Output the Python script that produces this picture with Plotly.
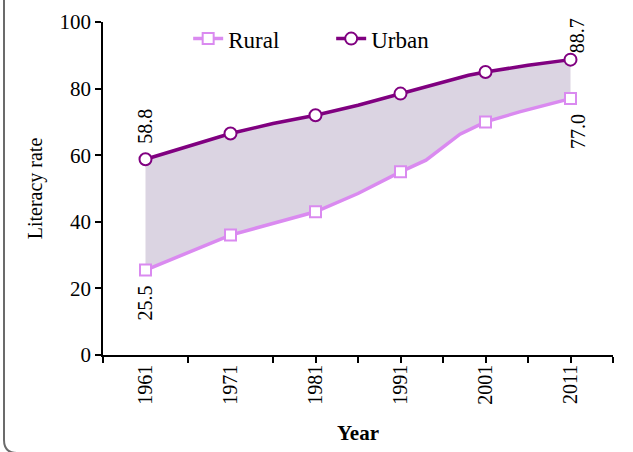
import plotly.graph_objects as go

# census years (markers) and values
census_years = [1961, 1971, 1981, 1991, 2001, 2011]
rural_census = [25.5, 36.0, 43.0, 55.0, 70.0, 77.0]
urban_census = [58.8, 66.5, 72.0, 78.5, 85.0, 88.7]

# line paths (include the in-between points seen on the curves)
rural_years = [1961, 1971, 1981, 1986, 1991, 1994, 1998, 2001, 2005, 2011]
rural_line = [25.5, 36.0, 43.0, 48.5, 55.0, 58.5, 66.3, 70.0, 73.0, 77.0]
urban_years = [1961, 1971, 1976, 1981, 1986, 1991, 1999, 2001, 2006, 2011]
urban_line = [58.8, 66.5, 69.5, 72.0, 75.0, 78.5, 84.0, 85.0, 87.0, 88.7]

RURAL = '#DA8AF0'
URBAN = '#800080'
FILL = '#DBD4E2'
FONT = 'Liberation Serif, Times New Roman, serif'

fig = go.Figure()

# shaded band between the two series
fig.add_trace(go.Scatter(x=rural_years, y=rural_line, mode='lines',
                         line=dict(width=0), showlegend=False, hoverinfo='skip'))
fig.add_trace(go.Scatter(x=urban_years, y=urban_line, mode='lines',
                         line=dict(width=0), fill='tonexty', fillcolor=FILL,
                         showlegend=False, hoverinfo='skip'))

# lines
fig.add_trace(go.Scatter(x=rural_years, y=rural_line, mode='lines',
                         line=dict(color=RURAL, width=3.5), showlegend=False))
fig.add_trace(go.Scatter(x=urban_years, y=urban_line, mode='lines',
                         line=dict(color=URBAN, width=3.5), showlegend=False))

# markers at census years
fig.add_trace(go.Scatter(x=census_years, y=rural_census, mode='markers', name='Rural',
                         marker=dict(symbol='square', size=11, color='white',
                                     line=dict(color=RURAL, width=2)),
                         showlegend=False))
fig.add_trace(go.Scatter(x=census_years, y=urban_census, mode='markers', name='Urban',
                         marker=dict(symbol='circle', size=12, color='white',
                                     line=dict(color=URBAN, width=2)),
                         showlegend=False))

# legend entries
fig.add_trace(go.Scatter(x=[None], y=[None], mode='lines+markers', name='Rural',
                         line=dict(color=RURAL, width=3.5),
                         marker=dict(symbol='square', size=11, color='white',
                                     line=dict(color=RURAL, width=2))))
fig.add_trace(go.Scatter(x=[None], y=[None], mode='lines+markers', name='Urban',
                         line=dict(color=URBAN, width=3.5),
                         marker=dict(symbol='circle', size=12, color='white',
                                     line=dict(color=URBAN, width=2))))

# rotated value labels at the ends
labels = [
    (census_years[0], urban_census[0], 33, 0),
    (census_years[0], rural_census[0], -33, 0),
    (census_years[-1], urban_census[-1], 24, 6),
    (census_years[-1], rural_census[-1], -33, 7),
]
for x, y, ys, xs in labels:
    fig.add_annotation(x=x, y=y, text=f'{y:.1f}', showarrow=False, textangle=-90,
                       xanchor='center', yanchor='middle', yshift=ys, xshift=xs,
                       font=dict(family=FONT, size=20, color='black'))

# rounded frame edge (pixel -> paper)
L, R, T, B = 103, 613, 22, 355
def px(x):
    return (x - L) / (R - L)
def py(y):
    return (B - y) / (B - T)
path = (f'M {px(4)},{py(-10)} L {px(4)},{py(440)} '
        f'Q {px(4)},{py(453)} {px(17)},{py(453)} L {px(640)},{py(453)}')
fig.add_shape(type='path', path=path, xref='paper', yref='paper',
              line=dict(color='#6b6b6b', width=2))

fig.update_layout(
    width=633, height=452,
    margin=dict(l=L, r=633 - R, t=T, b=452 - B),
    plot_bgcolor='white', paper_bgcolor='white',
    font=dict(family=FONT, size=20, color='black'),
    legend=dict(orientation='h', x=0.167, y=0.95, xanchor='left', yanchor='middle',
                traceorder='normal', bgcolor='rgba(0,0,0,0)',
                font=dict(family=FONT, size=23), entrywidth=98),
    xaxis=dict(range=[1956, 2016], tickvals=census_years, ticks='', tickangle=-90,
               automargin=False,
               showgrid=False, zeroline=False, showline=True, linecolor='black', linewidth=1.5,
               minor=dict(tickvals=[1956, 1966, 1976, 1981, 1986, 1991, 1996, 2001, 2006, 2011, 2016],
                          ticks='outside', ticklen=6, tickcolor='black', tickwidth=1.5),
               title=dict(text='<b>Year</b>', font=dict(family=FONT, size=21), standoff=22),
               tickfont=dict(family=FONT, size=20)),
    yaxis=dict(range=[0, 100], dtick=20, ticks='outside', ticklen=6, tickwidth=1.5,
               tickcolor='black', showgrid=False, zeroline=False, showline=True,
               linecolor='black', linewidth=1.5, automargin=False,
               title=dict(text='Literacy rate', font=dict(family=FONT, size=20), standoff=12),
               tickfont=dict(family=FONT, size=21)),
)

fig.write_html('out.html', config={'displayModeBar': False},
               post_script="document.body.style.margin='0';")
